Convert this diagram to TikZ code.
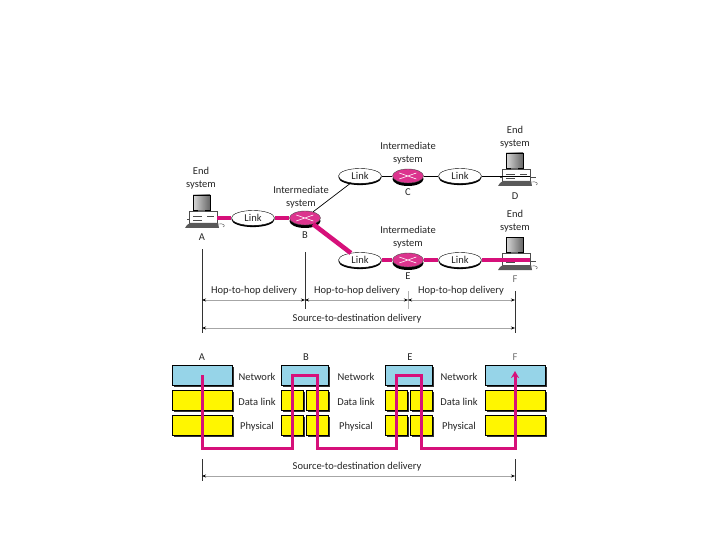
\documentclass[tikz,border=0pt]{standalone}
\usepackage{fontspec}
\setmainfont{Carlito}
\usetikzlibrary{arrows.meta,shapes.geometric,shadows}
\definecolor{routecol}{RGB}{214,16,122}
\definecolor{netcol}{RGB}{150,212,232}
\definecolor{dlcol}{RGB}{255,246,0}
\tikzset{
    computer/.pic={
        % base, monitor, keyboard
        \fill[black!70] (-17,2) rectangle (19,3);
        \draw[black!70, fill=white] (-15,-6) rectangle (13,8);
        \draw[black!70] (-11,-1) -- (-2,-1) (3,-1) -- (10,-1) (-11,3) -- (-2,3);
        \draw[black, left color=black!15, right color=black!60] (-11,-22) rectangle (6,-7);
        \fill[black!60] (-6,-7) rectangle (1,-5);
        \fill[black!65] (-17,8) -- (-14,6) -- (14,6) -- (15,11) -- (-19,11) -- cycle;
        \draw[black!70] (14,7) .. controls (20,6) and (22,9) .. (19,10);
        \coordinate (-port) at (13,1);
    }
}
\begin{document}
\begin{tikzpicture}[
    x=1pt, y=-1pt,
    every node/.style={font=\fontsize{10.5}{12}\selectfont, text=black!85, inner sep=0pt},
    linkbox/.style={ellipse, draw=black, fill=white, minimum width=43pt, minimum height=15pt,
        general shadow={shadow xshift=0pt, shadow yshift=-1.6pt, fill=black}},
    router/.style={ellipse, draw=black!70, fill=routecol!85, minimum width=31pt, minimum height=14pt,
        general shadow={shadow xshift=0pt, shadow yshift=-3pt, fill=black}},
    stackbox/.style={rectangle, draw=black, minimum height=20pt,
        general shadow={shadow xshift=1.8pt, shadow yshift=-1.8pt, fill=black!80}},
    netbox/.style={stackbox, fill=netcol},
    dlbox/.style={stackbox, fill=dlcol},
    names/.style={align=center, font=\fontsize{10.5}{12.5}\selectfont},
    thickline/.style={routecol, line width=4.6pt},
    thinline/.style={black, line width=0.7pt},
    route/.style={routecol, line width=3pt, line join=miter},
    tick/.style={black!80, line width=0.8pt},
    span/.style={black!35, line width=0.6pt, {Stealth[black,length=4pt,width=3pt]}-{Stealth[black,length=4pt,width=3pt]}}
]
\useasboundingbox (0,0) rectangle (720,540);
\fill[white] (0,0) rectangle (720,540);

% Computers
\pic (pcA) at (204,217) {computer};
\pic (pcD) at (517,175) {computer};
\pic (pcF) at (517,259) {computer};

% Network
\node (linkAB) [linkbox] at (253,218) {Link};
\node (linkBC) [linkbox] at (360,176) {Link};
\node (linkCD) [linkbox] at (460,176) {Link};
\node (linkBE) [linkbox] at (360,260) {Link};
\node (linkEF) [linkbox] at (460,260) {Link};
\node (routerB) [router] at (305,218) {};
\node (routerC) [router] at (408,176) {};
\node (routerE) [router] at (408,260) {};
\foreach \n in {B,C,E} {
    \draw[white, line width=0.6pt] (router\n.west) ++(7,-3) -- ++(17,6) ++(0,-6) -- ++(-17,6);
}

\draw [thickline] (pcA-port) -- (linkAB);
\draw [thickline] (linkAB) -- (routerB);
\draw [thickline] (routerB) -- (linkBE);
\draw [thickline] (linkBE) -- (routerE);
\draw [thickline] (routerE) -- (linkEF);
\draw [thickline] (linkEF) -- (pcF-port);
\draw [thinline] (routerB) -- (linkBC);
\draw [thinline] (linkBC) -- (routerC);
\draw [thinline] (routerC) -- (linkCD);
\draw [thinline] (linkCD) -- (pcD-port);

% Names
\node (endA) [names] at (201,178) {End\\system};
\node (interB) [names] at (301,197) {Intermediate\\system};
\node (interC) [names] at (408,153) {Intermediate\\system};
\node (endD) [names] at (515,137) {End\\system};
\node (interE) [names] at (408,237) {Intermediate\\system};
\node (endF) [names] at (515,221) {End\\system};
\node (nameA) at (202,237) {A};
\node (nameB) at (305,235) {B};
\node (nameC) at (408,192) {C};
\node (nameD) at (515,196) {D};
\node (nameE) at (408,276) {E};
\node (nameF) [text=black!55] at (515,279) {F};

% Delivery spans
\coordinate (topA) at (202,249);
\coordinate (topB) at (305,252);
\coordinate (topE) at (408,291);
\coordinate (topF) at (515,291);
\coordinate (hopA) at (202,300);
\coordinate (hopB) at (305,300);
\coordinate (hopE) at (408,300);
\coordinate (hopF) at (515,300);
\coordinate (endB) at (305,309);
\coordinate (endE) at (408,309);
\coordinate (srcA) at (202,328);
\coordinate (srcF) at (515,328);
\coordinate (botA) at (202,333);
\coordinate (botF) at (515,333);
\draw [tick] (topA) -- (botA);
\draw [tick] (topB) -- (endB);
\draw [tick, black!30] (topE) -- (endE);
\draw [tick] (topF) -- (botF);
\draw [span] (hopA) -- (hopB);
\draw [span] (hopB) -- (hopE);
\draw [span] (hopE) -- (hopF);
\draw [span] (srcA) -- (srcF);
\node (hop1) at (254,291) {Hop-to-hop delivery};
\node (hop2) at (357,291) {Hop-to-hop delivery};
\node (hop3) at (461,291) {Hop-to-hop delivery};
\node (src1) at (357,319) {Source-to-destination delivery};

% Stacks
\node (labA) at (202,357) {A};
\node (labB) at (306,357) {B};
\node (labE) at (410,357) {E};
\node (labF) [text=black!55] at (515,357) {F};

\node (netA) [netbox, minimum width=60pt] at (202,375) {};
\node (dlA) [dlbox, minimum width=60pt] at (202,400) {};
\node (phA) [dlbox, minimum width=60pt] at (202,425) {};
\node (netB) [netbox, minimum width=47pt] at (304.5,375) {};
\node (dlB1) [dlbox, minimum width=22pt] at (292,400) {};
\node (dlB2) [dlbox, minimum width=22pt] at (317,400) {};
\node (phB1) [dlbox, minimum width=22pt] at (292,425) {};
\node (phB2) [dlbox, minimum width=22pt] at (317,425) {};
\node (netE) [netbox, minimum width=47pt] at (408.5,375) {};
\node (dlE1) [dlbox, minimum width=22pt] at (396,400) {};
\node (dlE2) [dlbox, minimum width=22pt] at (421,400) {};
\node (phE1) [dlbox, minimum width=22pt] at (396,425) {};
\node (phE2) [dlbox, minimum width=22pt] at (421,425) {};
\node (netF) [netbox, minimum width=60pt] at (515,375) {};
\node (dlF) [dlbox, minimum width=60pt] at (515,400) {};
\node (phF) [dlbox, minimum width=60pt] at (515,425) {};

\foreach \x/\n in {257/1,356/2,459/3} {
    \node (net\n) at (\x,377) {Network};
    \node (dl\n) at (\x,402) {Data link};
    \node (ph\n) at (\x,427) {Physical};
}

% Route
\coordinate (low) at (202,448);
\draw [route, -{Stealth[length=7pt,width=8pt]}] (netA.center) -- (low)
    -- (dlB1 |- low) -- (dlB1 |- netB) -- (dlB2 |- netB) -- (dlB2 |- low)
    -- (dlE1 |- low) -- (dlE1 |- netE) -- (dlE2 |- netE) -- (dlE2 |- low)
    -- (netF |- low) -- ([yshift=4pt]netF.center);

% Bottom span
\coordinate (spanA) at (202,476);
\coordinate (spanF) at (515,476);
\coordinate (upA) at (202,459);
\coordinate (upF) at (515,459);
\coordinate (downA) at (202,481);
\coordinate (downF) at (515,481);
\draw [tick] (upA) -- (downA);
\draw [tick] (upF) -- (downF);
\draw [span] (spanA) -- (spanF);
\node (src2) at (357,467) {Source-to-destination delivery};

\end{tikzpicture}
\end{document}
